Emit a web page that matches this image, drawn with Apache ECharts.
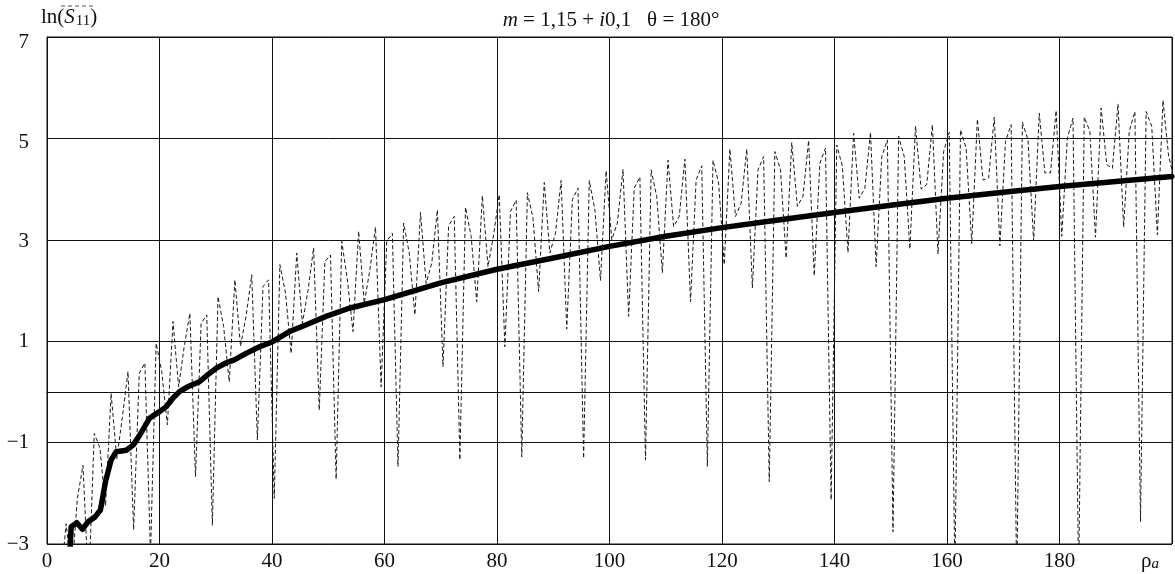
<!DOCTYPE html>
<html>
<head>
<meta charset="utf-8">
<script src="https://cdn.jsdelivr.net/npm/echarts@6/dist/echarts.min.js"></script>
<style>
  html, body { margin: 0; padding: 0; background: #fff; }
  #chart { width: 1175px; height: 574px; }
</style>
</head>
<body>
<div id="chart"></div>
<script>
// Mean backscatter curve ln(S11) versus size parameter rho_a (thick line)
const rhoMean = [4.0, 4.3, 5.3, 6.3, 7.3, 8.5, 9.5, 10.4, 11.4, 12.3, 14.1, 15.3, 16.5, 18.2, 20.0,
  21.2, 22.4, 23.6, 25.0, 27.1, 28.6, 30.1, 31.8, 33.3, 35.4, 37.8, 40.1, 43.1, 46.0, 49.6,
  53.7, 60, 70, 80, 90, 100, 110, 120, 130, 140, 150, 160, 170, 180, 190, 200];
const lnMean = [-3.3, -2.66, -2.58, -2.71, -2.56, -2.47, -2.33, -1.77, -1.34, -1.18, -1.15,
  -1.05, -0.85, -0.52, -0.39, -0.29, -0.12, 0.01, 0.10, 0.20, 0.34, 0.47, 0.57, 0.63, 0.76,
  0.89, 0.99, 1.19, 1.32, 1.49, 1.65, 1.82, 2.15, 2.42, 2.64, 2.87, 3.07, 3.24, 3.39, 3.54,
  3.68, 3.82, 3.94, 4.05, 4.15, 4.25];

// Single-particle curve (dashed), sampled at rho = rhoStart + i * rhoStep
const rhoStart = 2.4;
const rhoStep = 1;
const lnS11 = [
  -3.8, -2.6, -3.6, -2.1, -1.45, -3.9, -0.82, -1.1, -2.25, -0.03,
  -1.32, -0.5, 0.40, -2.72, 0.37, 0.57, -3.2, 0.96, 0.4, -0.65,
  1.39, 0.1, 0.9, 1.55, -1.67, 1.35, 1.52, -2.63, 1.88, 1.29,
  0.20, 2.21, 0.9, 1.5, 2.31, -0.95, 2.08, 2.21, -2.1, 2.51,
  1.95, 0.76, 2.74, 1.35, 2.0, 2.84, -0.36, 2.57, 2.70, -1.72,
  2.97, 2.21, 1.19, 3.17, 1.75, 2.41, 3.25, 0.10, 2.97, 3.13,
  -1.47, 3.33, 2.74, 1.52, 3.54, 2.14, 2.54, 3.59, 0.50, 3.28,
  3.46, -1.34, 3.64, 3.07, 1.78, 3.87, 2.47, 3.1, 3.89, 0.89,
  3.56, 3.78, -1.28, 3.93, 3.43, 1.98, 4.13, 2.74, 3.13, 4.17,
  1.24, 3.79, 4.02, -1.31, 4.17, 3.59, 2.20, 4.36, 3.0, 3.33,
  4.39, 1.49, 4.02, 4.24, -1.34, 4.38, 3.85, 2.35, 4.57, 3.26,
  3.46, 4.59, 1.78, 4.18, 4.46, -1.47, 4.57, 4.12, 2.51, 4.79,
  3.46, 3.72, 4.79, 2.05, 4.38, 4.64, -1.77, 4.74, 4.38, 2.64,
  4.92, 3.66, 3.86, 4.96, 2.29, 4.51, 4.81, -2.13, 4.87, 4.45,
  2.75, 5.10, 3.82, 4.02, 5.12, 2.47, 4.64, 4.97, -2.76, 5.04,
  4.64, 2.82, 5.24, 4.0, 4.09, 5.27, 2.72, 4.74, 5.12, -3.6,
  5.17, 4.81, 2.92, 5.38, 4.18, 4.22, 5.42, 2.88, 4.94, 5.27,
  -3.8, 5.32, 4.97, 2.98, 5.50, 4.32, 4.32, 5.55, 3.07, 5.01,
  5.40, -3.7, 5.42, 5.14, 3.05, 5.60, 4.48, 4.41, 5.68, 3.25,
  5.14, 5.53, -2.56, 5.53, 5.24, 3.10, 5.75, 4.65, 4.2
];

const xTicks = [0, 20, 40, 60, 80, 100, 120, 140, 160, 180];
const yTicks = [-3, -1, 1, 3, 5, 7];

const FONT = '"Liberation Serif", "Times New Roman", serif';
const FS = 21;

const chart = echarts.init(document.getElementById('chart'), null, { renderer: 'canvas' });

const meanData = rhoMean.map((r, i) => [r, lnMean[i]]);
const curveData = lnS11.map((v, i) => [rhoStart + i * rhoStep, v]);

// upper tick labels sit slightly below their grid lines
const yLabelStyle = { 7: 'd5', 5: 'd4', 3: 'd2' };

chart.setOption({
  animation: false,
  backgroundColor: '#fff',
  grid: {
    left: 47, right: 1, top: 37, bottom: 30,
    show: true, borderColor: '#111', borderWidth: 1, backgroundColor: 'transparent'
  },
  xAxis: {
    type: 'value', min: 0, max: 200, interval: 20,
    axisLine: { show: true, lineStyle: { color: '#111', width: 1 } },
    axisTick: { show: false },
    splitLine: { show: true, lineStyle: { color: '#111', width: 1 } },
    axisLabel: {
      margin: 7, color: '#111', fontFamily: FONT, fontSize: FS,
      formatter: v => xTicks.indexOf(v) >= 0 ? String(v) : ''
    }
  },
  yAxis: {
    type: 'value', min: -3, max: 7, interval: 2,
    axisLine: { show: true, lineStyle: { color: '#111', width: 1 } },
    axisTick: { show: false },
    splitLine: { show: true, lineStyle: { color: '#111', width: 1 } },
    axisLabel: {
      margin: 18, color: '#111', fontFamily: FONT, fontSize: FS,
      formatter: v => {
        if (yTicks.indexOf(v) < 0) return '';
        const t = String(v).replace('-', '\u2212');
        const s = yLabelStyle[v];
        return s ? '{' + s + '|' + t + '}' : t;
      },
      rich: {
        d5: { fontFamily: FONT, fontSize: FS, color: '#111', padding: [10, 0, 0, 0] },
        d4: { fontFamily: FONT, fontSize: FS, color: '#111', padding: [8, 0, 0, 0] },
        d2: { fontFamily: FONT, fontSize: FS, color: '#111', padding: [4, 0, 0, 0] }
      }
    }
  },
  series: [
    {
      // zero reference line
      type: 'line', data: [], z: 1, silent: true,
      markLine: {
        silent: true, symbol: 'none', animation: false,
        label: { show: false },
        lineStyle: { color: '#111', width: 1, type: 'solid' },
        data: [{ yAxis: 0 }]
      }
    },
    {
      name: 'single', type: 'line', data: curveData, symbol: 'none', z: 2,
      clip: true, silent: true,
      lineStyle: { color: '#1a1a1a', width: 1, type: [4, 2.5] }
    },
    {
      name: 'mean', type: 'line', data: meanData, symbol: 'none', z: 3,
      clip: true, silent: true,
      lineStyle: { color: '#000', width: 5.5, join: 'round', cap: 'round' }
    }
  ],
  graphic: [
    {
      type: 'text', left: 41, top: 7, silent: true,
      style: {
        text: 'ln({it|S}{sub|11})',
        fontFamily: FONT, fontSize: FS, fill: '#111',
        rich: {
          it: { fontFamily: FONT, fontSize: FS, fontStyle: 'italic', fill: '#111' },
          sub: { fontFamily: FONT, fontSize: 15, fill: '#111', padding: [8, 0, 0, 1] }
        }
      }
    },
    {
      // bar over S11
      type: 'line', silent: true,
      shape: { x1: 61, y1: 6, x2: 93, y2: 6 },
      style: { stroke: '#555', lineWidth: 1, lineDash: [4, 3] }
    },
    {
      type: 'text', x: 611, y: 20, silent: true,
      style: {
        text: '{it|m} = 1,15 + {it|i}0,1   θ = 180°',
        fontFamily: FONT, fontSize: FS, fill: '#111',
        textAlign: 'center', textVerticalAlign: 'middle',
        rich: {
          it: { fontFamily: FONT, fontSize: FS, fontStyle: 'italic', fill: '#111' }
        }
      }
    },
    {
      type: 'text', x: 1150, y: 561, silent: true,
      style: {
        text: 'ρ{sub|a}',
        fontFamily: FONT, fontSize: FS, fill: '#111',
        textAlign: 'center', textVerticalAlign: 'middle',
        rich: {
          sub: { fontFamily: FONT, fontSize: 15, fontStyle: 'italic', fill: '#111', padding: [6, 0, 0, 0] }
        }
      }
    }
  ]
});
</script>
</body>
</html>
